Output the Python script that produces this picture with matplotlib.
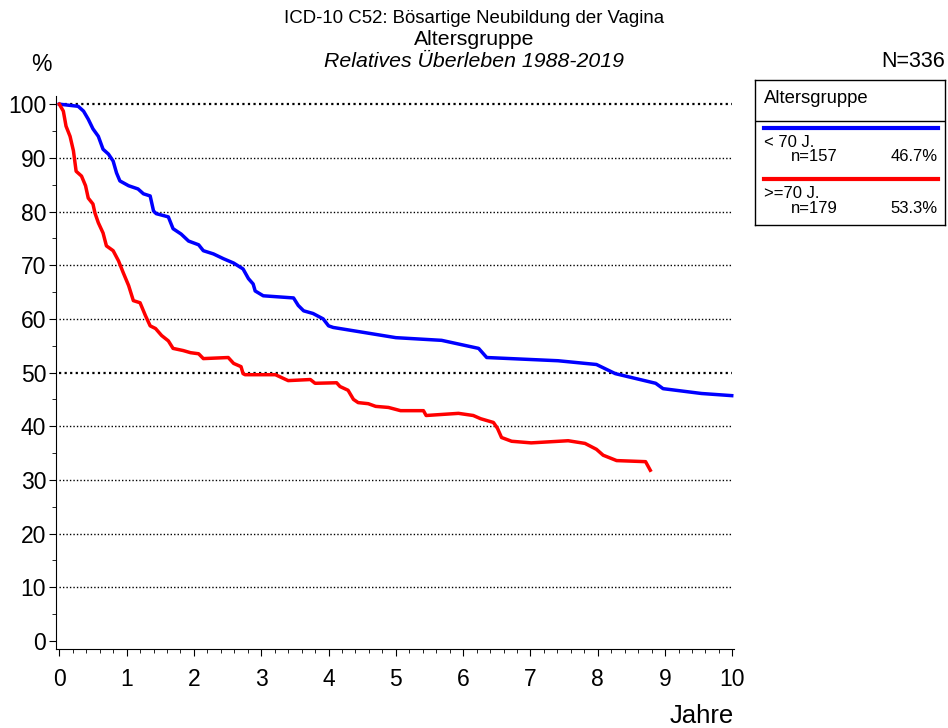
import numpy as np
import matplotlib.pyplot as plt
from matplotlib.ticker import MultipleLocator

plt.rcParams['font.family'] = ['Liberation Sans', 'DejaVu Sans']

# Überlebenskurven (Jahre, Prozent)
jahre_u70 = [0, 0.28, 0.36, 0.43, 0.5, 0.58, 0.65, 0.73, 0.8, 0.85, 0.9, 1.03, 1.17, 1.25,
             1.35, 1.4, 1.44, 1.62, 1.69, 1.81, 1.92, 2.07, 2.14, 2.29, 2.44, 2.59, 2.73,
             2.81, 2.88, 2.91, 3.03, 3.48, 3.55, 3.63, 3.77, 3.92, 4.0, 4.07, 5.0, 5.68,
             6.23, 6.35, 7.41, 7.98, 8.26, 8.86, 8.97, 9.54, 9.99]
surv_u70 = [100, 99.6, 98.7, 97.2, 95.4, 94, 91.6, 90.7, 89.4, 87.2, 85.7, 84.8, 84.2, 83.3,
            82.9, 80.1, 79.6, 79, 76.8, 75.8, 74.5, 73.8, 72.7, 72.1, 71.2, 70.4, 69.3,
            67.5, 66.5, 65.2, 64.3, 63.9, 62.5, 61.5, 61, 60, 58.7, 58.4, 56.5, 56,
            54.5, 52.8, 52.2, 51.5, 49.8, 48, 47, 46.1, 45.7]

jahre_o70 = [0, 0.06, 0.1, 0.16, 0.21, 0.25, 0.33, 0.39, 0.43, 0.5, 0.53, 0.58, 0.65, 0.7,
             0.8, 0.88, 0.95, 1.03, 1.1, 1.2, 1.28, 1.35, 1.43, 1.52, 1.62, 1.69, 1.84,
             1.95, 2.07, 2.14, 2.51, 2.59, 2.7, 2.73, 2.76, 3.21, 3.4, 3.73, 3.8, 4.12,
             4.17, 4.29, 4.37, 4.44, 4.59, 4.7, 4.89, 5.07, 5.41, 5.45, 5.93, 6.15, 6.26,
             6.45, 6.51, 6.57, 6.72, 7.01, 7.56, 7.81, 7.98, 8.08, 8.28, 8.71, 8.78]
surv_o70 = [100, 98.7, 95.9, 94, 91.3, 87.5, 86.6, 84.8, 82.5, 81.4, 79.7, 77.9, 76, 73.6,
            72.7, 70.8, 68.6, 66.2, 63.4, 63, 60.6, 58.7, 58.2, 56.9, 55.9, 54.5, 54.1,
            53.7, 53.5, 52.6, 52.8, 51.7, 51.1, 49.8, 49.6, 49.6, 48.5, 48.7, 48, 48.1,
            47.4, 46.7, 45, 44.4, 44.2, 43.7, 43.5, 42.9, 42.9, 42, 42.4, 42, 41.4,
            40.7, 39.6, 37.9, 37.2, 36.9, 37.3, 36.8, 35.7, 34.6, 33.6, 33.4, 31.8]

gruppen = ['< 70 J.', '>=70 J.']
n_werte = ['n=157', 'n=179']
anteile = ['46.7%', '53.3%']
farben = ['#0000ff', '#ff0000']

fig = plt.figure(figsize=(9.48, 7.28), dpi=100)
ax = fig.add_axes([0.059, 0.1085, 0.715, 0.7595])

for y in range(10, 101, 10):
    lw = 1.6 if y in (50, 100) else 1.0
    ax.plot([0, 10], [y, y], color='black', linestyle=(0, (1, 1.5)), linewidth=lw, zorder=1)

ax.plot(jahre_u70, surv_u70, color=farben[0], linewidth=2.5, zorder=3)
ax.plot(jahre_o70, surv_o70, color=farben[1], linewidth=2.5, zorder=3)

ax.set_xlim(-0.05, 10.02)
ax.set_ylim(-1.5, 101.5)
ax.spines['top'].set_visible(False)
ax.spines['right'].set_visible(False)
ax.xaxis.set_major_locator(MultipleLocator(1))
ax.xaxis.set_minor_locator(MultipleLocator(0.2))
ax.yaxis.set_major_locator(MultipleLocator(10))
ax.yaxis.set_minor_locator(MultipleLocator(5))
ax.tick_params(axis='both', which='both', direction='out', labelsize=16.5)
ax.tick_params(axis='x', which='major', length=5, pad=9)
ax.tick_params(axis='x', which='minor', length=3)
ax.tick_params(axis='y', which='major', length=5, pad=2)
ax.tick_params(axis='y', which='minor', length=3)

fig.text(0.5, 0.975, 'ICD-10 C52: Bösartige Neubildung der Vagina', ha='center', va='center', fontsize=13.4)
fig.text(0.5, 0.946, 'Altersgruppe', ha='center', va='center', fontsize=15.3)
fig.text(0.5, 0.915, 'Relatives Überleben 1988-2019', ha='center', va='center', fontsize=15.3, style='italic')
fig.text(0.044, 0.912, '%', ha='center', va='center', fontsize=16.5)
fig.text(0.997, 0.915, 'N=336', ha='right', va='center', fontsize=15.5)
fig.text(0.74, 0.017, 'Jahre', ha='center', va='center', fontsize=18.5)

# Legende als eigener Kasten
lg = fig.add_axes([0.796, 0.691, 0.201, 0.199])
lg.set_xlim(0, 1)
lg.set_ylim(0, 1)
lg.set_xticks([])
lg.set_yticks([])
for s in lg.spines.values():
    s.set_linewidth(1.0)
lg.text(0.05, 0.87, 'Altersgruppe', ha='left', va='center', fontsize=13.3)
lg.plot([0, 1], [0.72, 0.72], color='black', linewidth=1.0)
for i in range(2):
    y0 = 0.67 - i * 0.355
    lg.plot([0.05, 0.96], [y0, y0], color=farben[i], linewidth=3)
    lg.text(0.05, y0 - 0.1, gruppen[i], ha='left', va='center', fontsize=12)
    lg.text(0.19, y0 - 0.2, n_werte[i], ha='left', va='center', fontsize=12)
    lg.text(0.96, y0 - 0.2, anteile[i], ha='right', va='center', fontsize=12)

fig.savefig('out.png', dpi=100)
